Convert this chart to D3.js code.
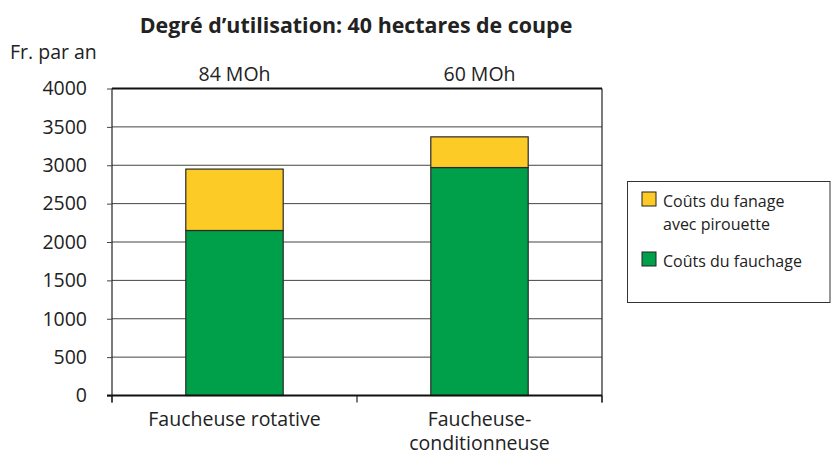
<!DOCTYPE html>
<html>
<head>
<meta charset="utf-8">
<script src="https://cdn.jsdelivr.net/npm/d3@7"></script>
<style>
  body { margin: 0; background: #fff; }
  svg { font-family: "Open Sans", sans-serif; }
</style>
</head>
<body>
<svg id="chart" width="831" height="455"></svg>
<script>
// data
const categories = ["Faucheuse rotative", "Faucheuse-\nconditionneuse"];
const topLabels = ["84 MOh", "60 MOh"];
const fauchage = [2150, 2970];
const fanage = [800, 400];
const seriesNames = ["Coûts du fauchage", "Coûts du fanage\navec pirouette"];
const colors = ["#00a04a", "#fccb26"];
const yTicks = [0, 500, 1000, 1500, 2000, 2500, 3000, 3500, 4000];

const svg = d3.select("#chart");
const margin = {left: 112, right: 229, top: 88.5, bottom: 59.5};
const W = 831, H = 455;

const x = d3.scaleBand().domain(categories).range([margin.left, W - margin.right]).paddingInner(0).paddingOuter(0);
const y = d3.scaleLinear().domain([0, 4000]).range([H - margin.bottom, margin.top]);

// gridlines
svg.append("g").selectAll("line").data(yTicks.slice(1, -1)).join("line")
  .attr("x1", margin.left).attr("x2", W - margin.right)
  .attr("y1", d => y(d)).attr("y2", d => y(d))
  .attr("stroke", "#444").attr("stroke-width", 1);

// top border
svg.append("line").attr("x1", margin.left).attr("x2", W - margin.right)
  .attr("y1", y(4000)).attr("y2", y(4000)).attr("stroke", "#111").attr("stroke-width", 2);
// right border
svg.append("line").attr("x1", W - margin.right).attr("x2", W - margin.right)
  .attr("y1", y(4000)).attr("y2", y(0) + 7).attr("stroke", "#222").attr("stroke-width", 1.2);

// bars
const bw = 97.4;
const stackData = categories.map((c, i) => ({c, parts: [[0, fauchage[i]], [fauchage[i], fauchage[i] + fanage[i]]]}));
const g = svg.append("g");
stackData.forEach(d => {
  d.parts.forEach((p, j) => {
    g.append("rect")
      .attr("x", x(d.c) + x.bandwidth() / 2 - bw / 2)
      .attr("width", bw)
      .attr("y", y(p[1]))
      .attr("height", y(p[0]) - y(p[1]))
      .attr("fill", colors[j])
      .attr("stroke", "#2a2a2a").attr("stroke-width", 1.2);
  });
});

// y axis
const yAxis = svg.append("g").attr("transform", `translate(${margin.left},0)`)
  .call(d3.axisLeft(y).tickValues(yTicks).tickSize(5).tickPadding(20).tickFormat(d3.format("d")));
yAxis.select(".domain").attr("stroke", "#222").attr("stroke-width", 1.2).attr("d", `M0,${y(4000)}V${y(0) + 7}`);
yAxis.selectAll(".tick line").attr("stroke", "#444");
yAxis.selectAll("text").attr("font-size", 19.5).attr("fill", "#222").attr("font-family", "Open Sans");

// x axis
svg.append("line").attr("x1", margin.left - 5).attr("x2", W - margin.right)
  .attr("y1", y(0)).attr("y2", y(0)).attr("stroke", "#111").attr("stroke-width", 2);
const xTickPos = [margin.left, margin.left + x.bandwidth(), W - margin.right];
svg.append("g").selectAll("line").data(xTickPos).join("line")
  .attr("x1", d => d).attr("x2", d => d)
  .attr("y1", y(0)).attr("y2", y(0) + 7)
  .attr("stroke", "#222").attr("stroke-width", 1.2);

// category labels, one text per line
const xlg = svg.append("g");
categories.forEach(c => {
  c.split("\n").forEach((line, i) => {
    xlg.append("text")
      .attr("text-anchor", "middle").attr("font-size", 19.5).attr("fill", "#222")
      .attr("x", x(c) + x.bandwidth() / 2).attr("y", 426 + i * 24)
      .text(line);
  });
});

// top labels
svg.append("g").selectAll("text").data(topLabels).join("text")
  .attr("text-anchor", "middle").attr("font-size", 19.5).attr("fill", "#222")
  .attr("x", (d, i) => x(categories[i]) + x.bandwidth() / 2).attr("y", 81)
  .text(d => d);

// title
svg.append("text").attr("x", 356).attr("y", 33).attr("text-anchor", "middle")
  .attr("font-size", 21.4).attr("font-weight", "bold").attr("fill", "#222")
  .text("Degré d’utilisation: 40 hectares de coupe");

svg.append("text").attr("x", 10).attr("y", 59).attr("font-size", 19.5).attr("fill", "#222")
  .text("Fr. par an");

// legend
const lg = svg.append("g");
lg.append("rect").attr("x", 627.5).attr("y", 181.5).attr("width", 202.5).attr("height", 121)
  .attr("fill", "#fff").attr("stroke", "#333").attr("stroke-width", 1);
const legendItems = [
  {name: seriesNames[1], color: colors[1], y: 192},
  {name: seriesNames[0], color: colors[0], y: 252}
];
legendItems.forEach(it => {
  lg.append("rect").attr("x", 642).attr("y", it.y).attr("width", 14).attr("height", 14)
    .attr("fill", it.color).attr("stroke", "#222").attr("stroke-width", 1);
  it.name.split("\n").forEach((line, i) => {
    lg.append("text").attr("x", 663).attr("y", it.y + 14.5 + i * 23.5)
      .attr("font-size", 16).attr("fill", "#222").text(line);
  });
});
</script>
</body>
</html>
